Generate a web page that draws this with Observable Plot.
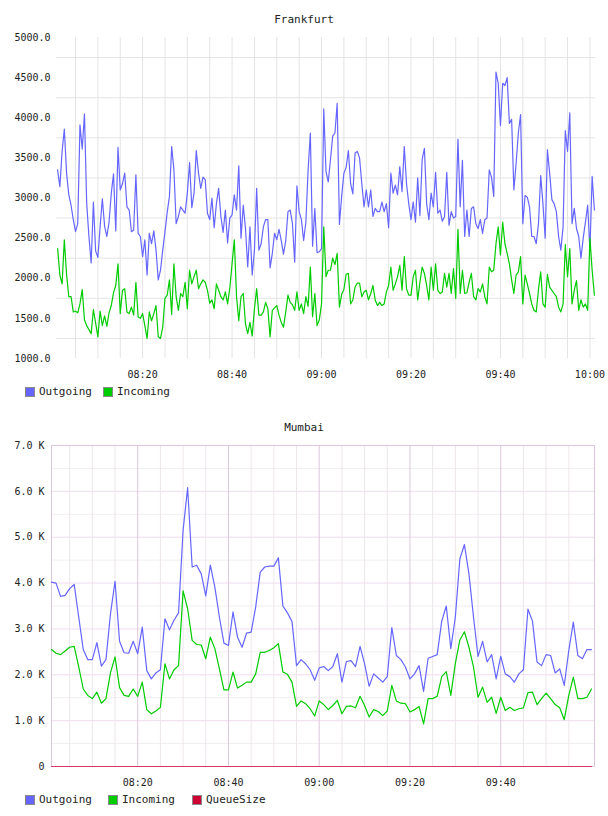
<!DOCTYPE html>
<html><head><meta charset="utf-8">
<script src="https://cdn.jsdelivr.net/npm/d3@7"></script>
<script src="https://cdn.jsdelivr.net/npm/@observablehq/plot@0.6"></script>
<style>
body{margin:0;background:#fff;}
#wrap{position:relative;width:608px;height:816px;font-family:"DejaVu Sans Mono",monospace;color:#222;}
.panel{position:absolute;left:0;}
.title{position:absolute;left:0;width:608px;text-align:center;font-size:11px;line-height:14px;z-index:2;}
.legend{position:absolute;left:0;width:608px;height:14px;font-size:11px;line-height:14px;z-index:2;}
.item{position:absolute;top:0;display:flex;align-items:center;white-space:nowrap;}
.sw{box-sizing:border-box;width:10px;height:10px;border:1px solid #8a8a8a;margin-right:4px;}
</style></head>
<body>
<div id="wrap">
  <div id="fpanel" class="panel" style="top:0"></div>
  <div class="title" style="top:13px">Frankfurt</div>
  <div id="flegend" class="legend" style="top:385px"></div>
  <div id="mpanel" class="panel" style="top:400px"></div>
  <div class="title" style="top:421px">Mumbai</div>
  <div id="mlegend" class="legend" style="top:793px"></div>
</div>
<script>
// ---------- Frankfurt (30 s samples from 08:01:00) ----------
const frankStart = "08:01:00";
const frankStepSeconds = 30;
const frankOutgoing = [
3350,3140,3580,3860,3310,3040,2910,2730,2580,2680,3910,3610,4050,2930,2520,2190,2950,2340,2260,2640,
2990,2650,2520,2700,3060,3300,2590,3630,3100,3180,3310,2890,2850,2580,2600,3290,2560,2520,2270,2480,
2040,2560,2430,2590,2350,1980,2100,2350,2580,2820,3020,3640,3350,2680,2770,2890,2850,2810,3060,3440,
2880,
3060,3590,3310,3120,3260,3230,2810,2730,3000,2630,2930,3120,2770,2570,2850,2440,2750,2790,3040,2850,
3400,2500,2910,2620,2140,2640,2040,2350,3120,2350,2430,2640,2730,2730,2130,2310,2560,2480,2610,2470,
2300,2470,2830,2850,2680,2200,3150,2830,2730,2470,2700,3350,3810,2400,2870,2320,2330,2370,4110,3330,
3200,3480,3770,3810,4180,2670,3020,3310,3380,3590,3180,3050,3560,3580,3500,3180,2890,3100,2890,3100,
2770,2870,2830,2830,2950,2830,2930,2630,3310,3060,3160,3040,3390,3080,3640,3180,2930,2730,2950,2700,
3250,2780,3480,3620,2930,2730,3060,2890,3320,2810,2850,2710,2770,3320,2660,2830,2750,2770,3730,2890,
3470,2520,2850,2520,2870,2890,2680,2620,2730,2560,2730,2750,3350,3260,3020,4570,4430,3900,4430,4400,
4500,3930,3980,3100,3430,3810,4040,2680,3030,3010,2890,2520,2520,2430,2680,3280,2930,2500,3600,3310,
2980,2930,2830,2520,2350,2640,3840,3580,4060,2680,2870,2620,2520,2250,2500,2700,2910,2350,3270,2850
];
const frankIncoming = [
2370,2040,1930,2480,2050,1770,1770,1580,1590,1570,1680,1860,1480,1410,1360,1310,1610,1440,1270,1590,
1410,1530,1400,1570,1660,1820,1910,2180,1560,1850,1870,1580,1560,1640,1540,1950,1520,1500,1560,1410,
1250,1580,1470,1560,1660,1270,1250,1390,1750,1790,1980,1550,2180,1770,1600,1810,1770,1950,1620,2100,
1930,
2020,2100,1870,1930,1980,1950,1850,1690,1730,1620,1930,1850,1770,1730,1830,1680,1880,2180,2480,1770,
1470,1770,1810,1430,1310,1450,1280,1620,1870,1540,1540,1580,1700,1620,1270,1600,1630,1660,1540,1450,
1390,1580,1790,1700,1670,1600,1830,1600,1680,1560,1770,1650,2140,1520,1810,1410,1480,1680,2640,2020,
2100,2100,2250,2170,2310,1640,1800,1860,2050,2060,1680,1730,1890,1940,1940,1770,1830,1850,1730,1810,
1910,1730,1660,1700,1660,1680,1830,1910,2140,1850,1930,2020,2160,1850,2270,1870,1790,1790,2020,2100,
1730,1950,2140,2060,1910,1730,2140,1850,2180,1850,1810,1830,2060,1890,2060,1810,2120,1750,2610,1810,
2100,1810,1820,1950,2060,1770,1730,1870,1830,1930,1770,1680,2140,2080,2100,2430,2640,2290,2700,2430,
2310,2180,1980,1810,2040,2080,2270,1680,2040,1930,1810,1680,1600,1580,1860,2080,1680,1640,2050,1890,
1850,1810,1770,1640,1580,1680,2420,2020,2370,1680,1850,1970,1600,1730,1640,1680,1600,2500,2100,1790
];
const frankYTicks = [1000,1500,2000,2500,3000,3500,4000,4500,5000];
const frankGridY = [1250,1750,2250,2750,3250,3750,4250,4750];
const frankXTicks = ["08:20","08:40","09:00","09:20","09:40","10:00"];
const frankDomain = ["08:00:45","10:01:15"];

// ---------- Mumbai (1 min samples from 08:01) ----------
const mumStart = "08:01:00";
const mumStepSeconds = 60;
const mumOutgoing = [
4020,4000,3710,3730,3880,3970,3260,2550,2330,2330,2700,2190,2330,3330,4040,2730,2480,2470,2730,2460,
3040,2090,1910,2040,2110,3220,2980,3190,3350,5150,6080,4350,4390,4200,3720,4390,3910,3260,2690,2640,
3370,2820,2600,2910,2930,3480,4240,4350,4370,4370,4550,3500,3350,3160,2200,2330,2240,2110,1880,
2150,2180,2090,2180,2460,1840,2290,2310,2180,2620,2240,1750,2020,1930,1840,1960,3030,2420,2330,2170,
1910,2020,2200,1640,2360,2400,2440,3170,3500,2570,3260,4530,4840,4200,3260,2400,2730,2280,2440,1910,
2400,2020,1960,1840,2020,2110,3430,3170,2280,2200,2440,2420,2040,2130,1770,2530,3150,2420,2350,2550,
2550
];
const mumIncoming = [
2550,2470,2440,2520,2600,2620,2170,1690,1550,1480,1620,1380,1480,2040,2390,1720,1550,1530,1690,1530,
1840,1240,1150,1210,1290,2240,1910,2110,2200,3830,3440,2750,2660,2650,2350,2820,2570,2130,1670,1670,
2060,1710,1770,1840,1840,2020,2490,2490,2530,2590,2680,2060,2010,1840,1310,1430,1370,1260,1100,
1430,1350,1240,1330,1440,1150,1310,1320,1280,1530,1330,1080,1240,1200,1110,1210,1770,1430,1380,1370,
1190,1240,1310,930,1480,1480,1530,1960,2070,1550,2250,2760,2940,2600,2170,1510,1730,1400,1510,1160,
1510,1220,1290,1220,1260,1280,1610,1620,1350,1480,1600,1480,1350,1280,1020,1550,1950,1480,1480,1510,
1690
];
const mumQueueSize = [
0,0,0,0,0,0,0,0,0,0,0,0,0,0,0,0,0,0,0,0,0,0,0,0,0,0,0,0,0,0,
0,0,0,0,0,0,0,0,0,0,0,0,0,0,0,0,0,0,0,0,0,0,0,0,0,0,0,0,0,0,
0,0,0,0,0,0,0,0,0,0,0,0,0,0,0,0,0,0,0,0,0,0,0,0,0,0,0,0,0,0,
0,0,0,0,0,0,0,0,0,0,0,0,0,0,0,0,0,0,0,0,0,0,0,0,0,0,0,0,0,0
];
const mumYTicks = [0,1000,2000,3000,4000,5000,6000,7000];
const mumGridMinor = [500,1500,2500,3500,4500,5500,6500];
const mumXTicks = ["08:20","08:40","09:00","09:20","09:40"];
const mumDomain = ["08:01:00","10:00:40"];

const seriesNames = ["Outgoing","Incoming","QueueSize"];
const seriesColors = ["#6666ff","#00cc00","#cc0033"];

// ---------- helpers ----------
const T = s => { const [h,m,sec] = s.split(":").map(Number); return new Date(2024,0,1,h,m,sec||0); };
const rows = (vals, start, step) => vals.map((v,i) => ({t: new Date(T(start).getTime() + i*step*1000), v}));
const fmtTime = d3.timeFormat("%H:%M");
const baseStyle = {fontFamily:"DejaVu Sans Mono", fontSize:"10px", color:"#222", background:"transparent", overflow:"visible"};

// ---------- Frankfurt chart ----------
const fDom = frankDomain.map(T);
const fVert = d3.timeMinute.every(5).range(T("08:05"), new Date(T("10:00").getTime()+1000));
const frank = Plot.plot({
  width: 608, height: 385,
  marginTop: 37, marginBottom: 27, marginLeft: 56, marginRight: 13,
  style: baseStyle,
  x: {type: "time", domain: fDom},
  y: {domain: [1000, 5000]},
  marks: [
    Plot.ruleY(frankGridY, {stroke: "#e4e4e4"}),
    Plot.ruleX(fVert, {stroke: "#e4e4e4"}),
    Plot.line(rows(frankOutgoing, frankStart, frankStepSeconds), {x: "t", y: "v", stroke: seriesColors[0], strokeWidth: 1.2}),
    Plot.line(rows(frankIncoming, frankStart, frankStepSeconds), {x: "t", y: "v", stroke: seriesColors[1], strokeWidth: 1.2}),
    Plot.axisY({ticks: frankYTicks, tickFormat: d => d.toFixed(1), tickSize: 0, tickPadding: 6, label: null}),
    Plot.axisX({ticks: frankXTicks.map(T), tickFormat: fmtTime, tickSize: 0, tickPadding: 12, label: null})
  ]
});
document.getElementById("fpanel").appendChild(frank);

// ---------- Mumbai chart ----------
const mDom = mumDomain.map(T);
const mMajor = mumXTicks.map(T);
const mMinor = d3.timeMinute.every(5).range(T("08:05"), T("09:59")).filter(d => d.getMinutes() % 20 !== 0);
const mum = Plot.plot({
  width: 608, height: 390,
  marginTop: 45, marginBottom: 24, marginLeft: 51, marginRight: 14,
  style: baseStyle,
  x: {type: "time", domain: mDom},
  y: {domain: [0, 7000]},
  marks: [
    Plot.ruleY(mumGridMinor, {stroke: "#f1eef1"}),
    Plot.ruleY(mumYTicks.slice(1, -1), {stroke: "#efdcef"}),
    Plot.ruleX(mMinor, {stroke: "#ece6ec"}),
    Plot.ruleX(mMajor, {stroke: "#ddc7dd"}),
    Plot.frame({stroke: "#ddc7dd"}),
    Plot.line(rows(mumOutgoing, mumStart, mumStepSeconds), {x: "t", y: "v", stroke: seriesColors[0], strokeWidth: 1.2}),
    Plot.line(rows(mumIncoming, mumStart, mumStepSeconds), {x: "t", y: "v", stroke: seriesColors[1], strokeWidth: 1.2}),
    Plot.line(rows(mumQueueSize, mumStart, mumStepSeconds), {x: "t", y: "v", stroke: "#dd3366", strokeWidth: 1.2}),
    Plot.axisY({ticks: mumYTicks, tickFormat: d => d === 0 ? "0" : (d/1000).toFixed(1) + " K", tickSize: 0, tickPadding: 7, label: null}),
    Plot.axisX({ticks: mMajor, tickFormat: fmtTime, tickSize: 0, tickPadding: 12, label: null})
  ]
});
document.getElementById("mpanel").appendChild(mum);

// ---------- legends ----------
function legend(id, n, lefts) {
  const el = document.getElementById(id);
  for (let i = 0; i < n; i++) {
    const it = document.createElement("div");
    it.className = "item";
    it.style.left = lefts[i] + "px";
    const sw = document.createElement("div");
    sw.className = "sw";
    sw.style.background = seriesColors[i];
    const tx = document.createElement("span");
    tx.textContent = seriesNames[i];
    it.appendChild(sw); it.appendChild(tx);
    el.appendChild(it);
  }
}
legend("flegend", 2, [25, 103]);
legend("mlegend", 3, [25, 108, 192]);
</script>
</body></html>
